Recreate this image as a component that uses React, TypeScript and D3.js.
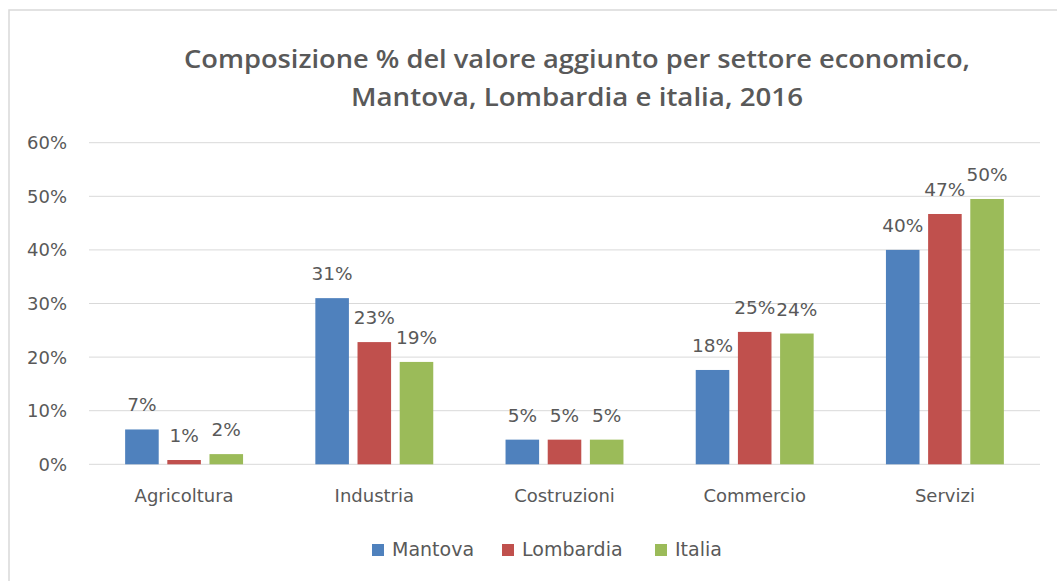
import React, { useEffect, useRef } from 'react'
import * as d3 from 'd3'

// Data
const categories = ['Agricoltura', 'Industria', 'Costruzioni', 'Commercio', 'Servizi']
const seriesNames = ['Mantova', 'Lombardia', 'Italia']
const mantova = [6.5, 31.0, 4.6, 17.6, 40.0]
const lombardia = [0.8, 22.8, 4.6, 24.7, 46.7]
const italia = [1.9, 19.1, 4.6, 24.4, 49.5]
const yTicks = [0, 10, 20, 30, 40, 50, 60]
const titleLines = [
  'Composizione % del valore aggiunto per settore economico,',
  'Mantova, Lombardia e italia, 2016',
]

const colors = ['#4F81BD', '#C0504D', '#9BBB59']
const textColor = '#595959'
const font = '"DejaVu Sans", sans-serif'

export default function App() {
  const ref = useRef<SVGSVGElement>(null)

  useEffect(() => {
    const svg = d3.select(ref.current)
    svg.selectAll('*').remove()

    const W = 1057, H = 581
    const margin = { top: 142.7, left: 89, right: 17, bottom: 116.7 }
    const w = W - margin.left - margin.right
    const h = H - margin.top - margin.bottom

    // chart frame
    svg.append('rect')
      .attr('x', 9).attr('y', 10)
      .attr('width', W + 10).attr('height', H + 10)
      .attr('fill', 'white').attr('stroke', '#d9d9d9').attr('stroke-width', 1.5)

    // title
    svg.append('g').selectAll('text').data(titleLines).join('text')
      .attr('x', 577)
      .attr('y', (d, i) => 68 + i * 38)
      .attr('text-anchor', 'middle')
      .attr('textLength', (d, i) => (i === 0 ? 786 : 452))
      .attr('lengthAdjust', 'spacingAndGlyphs')
      .style('font-family', '"Open Sans", sans-serif')
      .style('font-weight', 600)
      .style('font-size', '25px')
      .style('fill', textColor)
      .text(d => d)

    const g = svg.append('g').attr('transform', `translate(${margin.left}, ${margin.top})`)

    const x = d3.scaleBand().domain(categories).range([0, w])
    const y = d3.scaleLinear().domain([0, 60]).range([h, 0])
    const groupW = x.bandwidth() * 0.62
    const xInner = d3.scaleBand().domain(seriesNames).range([0, groupW]).paddingInner(0.204)

    // gridlines
    g.selectAll('.grid').data(yTicks).join('line')
      .attr('class', 'grid')
      .attr('x1', 0).attr('x2', w)
      .attr('y1', d => y(d)).attr('y2', d => y(d))
      .attr('stroke', '#d9d9d9').attr('stroke-width', 1)

    // y tick labels
    g.selectAll('.ytick').data(yTicks).join('text')
      .attr('class', 'ytick')
      .attr('x', -22)
      .attr('y', d => y(d))
      .attr('dy', '0.36em')
      .attr('text-anchor', 'end')
      .style('font-family', font)
      .style('font-size', '18px')
      .style('fill', textColor)
      .text(d => d + '%')

    const allSeries = [mantova, lombardia, italia]
    const flat = categories.flatMap((c, ci) =>
      seriesNames.map((s, si) => ({ c, s, si, v: allSeries[si][ci] })))

    const bx = (d: any) => (x(d.c) as number) + (x.bandwidth() - groupW) / 2 + (xInner(d.s) as number)

    g.selectAll('.bar').data(flat).join('rect')
      .attr('class', 'bar')
      .attr('x', bx)
      .attr('y', d => y(d.v))
      .attr('width', xInner.bandwidth())
      .attr('height', d => h - y(d.v))
      .attr('fill', d => colors[d.si])

    g.selectAll('.lbl').data(flat).join('text')
      .attr('class', 'lbl')
      .attr('x', d => bx(d) + xInner.bandwidth() / 2)
      .attr('y', d => y(d.v) - 18)
      .attr('text-anchor', 'middle')
      .style('font-family', font)
      .style('font-size', '18.5px')
      .style('fill', textColor)
      .text(d => Math.round(d.v) + '%')

    // category labels
    g.selectAll('.xlbl').data(categories).join('text')
      .attr('class', 'xlbl')
      .attr('x', d => (x(d) as number) + x.bandwidth() / 2)
      .attr('y', h + 38)
      .attr('text-anchor', 'middle')
      .style('font-family', font)
      .style('font-size', '18px')
      .style('fill', textColor)
      .text(d => d)

    // legend
    const legendX = [372, 502, 655]
    const leg = svg.append('g').selectAll('g').data(seriesNames).join('g')
      .attr('transform', (d, i) => `translate(${legendX[i]}, 544)`)
    leg.append('rect')
      .attr('width', 12).attr('height', 12)
      .attr('fill', (d, i) => colors[i])
    leg.append('text')
      .attr('x', 20).attr('y', 12)
      .style('font-family', font)
      .style('font-size', '19px')
      .style('fill', textColor)
      .text(d => d)
  }, [])

  return (
    <svg ref={ref} width={1057} height={581}
      style={{ position: 'absolute', left: 0, top: 0, background: 'white' }} />
  )
}
